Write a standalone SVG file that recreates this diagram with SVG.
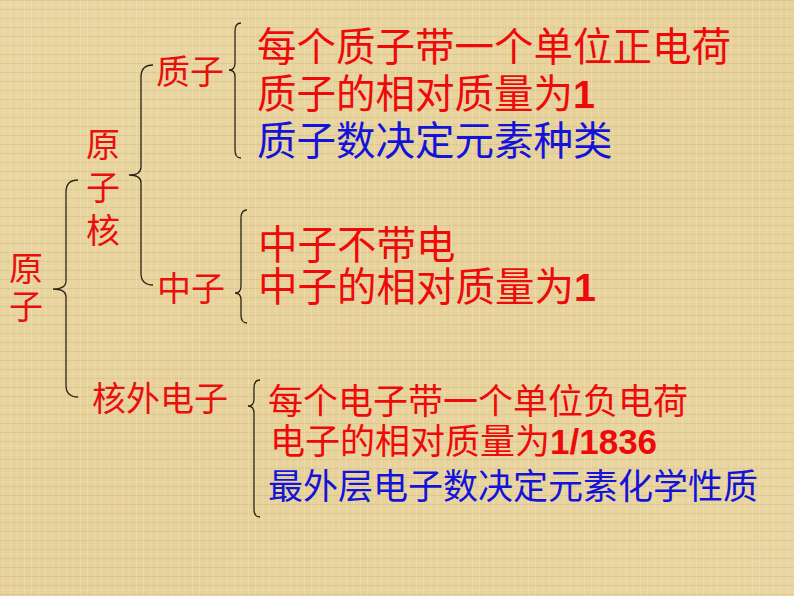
<svg xmlns="http://www.w3.org/2000/svg" width="794" height="596" viewBox="0 0 794 596">
<defs>
<style>
.cjk{font-family:"Noto Sans CJK SC","Noto Sans CJK TC",sans-serif;}
.lbl{font-size:34px;fill:#E8100E;}
.big{font-size:39.5px;}
.mid{font-size:35px;}
.red{fill:#EE0A0A;}
.blue{fill:#1414D8;}
.num{font-family:"Liberation Sans",Arial,sans-serif;font-weight:bold;}
.brace{fill:none;stroke:#2a2418;stroke-width:1.3;}
</style>
<pattern id="tex" width="7" height="9" patternUnits="userSpaceOnUse">
<rect width="7" height="9" fill="none"/>
<line x1="0" y1="0.5" x2="7" y2="0.5" stroke="#c9b27a" stroke-opacity="0.35" stroke-width="1"/>
<line x1="3.5" y1="0" x2="3.5" y2="9" stroke="#f5e8c0" stroke-opacity="0.35" stroke-width="1"/>
<line x1="0" y1="5" x2="7" y2="5" stroke="#f3e4b8" stroke-opacity="0.3" stroke-width="1"/>
</pattern>
<linearGradient id="bg" x1="0" y1="0" x2="1" y2="1">
<stop offset="0" stop-color="#E9D6A2"/>
<stop offset="0.5" stop-color="#E6D19A"/>
<stop offset="1" stop-color="#E9D5A1"/>
</linearGradient>
</defs>
<rect width="794" height="596" fill="url(#bg)"/>
<rect width="794" height="596" fill="url(#tex)"/>

<g id="connectors">
<path class="brace" d="M78,180 Q66,180 66,192 L66,281 Q66,289 53,289 Q66,289 66,297 L66,385 Q66,397 78,397"/>
<path class="brace" d="M153,65 Q141,65 141,77 L141,167 Q141,175 129,175 Q141,175 141,183 L141,273 Q141,285 153,285"/>
<path class="brace" d="M241,23 Q235,23 235,31 L235,63 Q235,70 229,70 Q235,70 235,77 L235,150 Q235,158 241,158"/>
<path class="brace" d="M247,210 Q241,210 241,218 L241,286 Q241,293 235,293 Q241,293 241,300 L241,315 Q241,323 247,323"/>
<path class="brace" d="M260,380 Q254,380 254,388 L254,399 Q254,406 248,406 Q254,406 254,413 L254,509 Q254,517 260,517"/>
</g>

<g id="atom">
<text class="cjk lbl" x="9" y="281">原</text>
<text class="cjk lbl" x="9" y="319">子</text>
</g>
<g id="nucleus">
<text class="cjk lbl" x="86" y="157">原</text>
<text class="cjk lbl" x="86" y="200">子</text>
<text class="cjk lbl" x="86" y="243">核</text>
</g>
<g id="proton">
<text class="cjk lbl" x="156" y="84">质子</text>
</g>
<g id="neutron">
<text class="cjk lbl" x="157" y="301">中子</text>
</g>
<g id="electron">
<text class="cjk lbl" x="92" y="411">核外电子</text>
</g>

<g id="proton-facts">
<text class="cjk big red" x="257" y="61">每个质子带一个单位正电荷</text>
<text class="cjk big red" x="257" y="108">质子的相对质量为<tspan class="num">1</tspan></text>
<text class="cjk big blue" x="257" y="155">质子数决定元素种类</text>
</g>
<g id="neutron-facts">
<text class="cjk big red" x="258" y="259">中子不带电</text>
<text class="cjk big red" x="258" y="301">中子的相对质量为<tspan class="num">1</tspan></text>
</g>
<g id="electron-facts">
<text class="cjk mid red" x="268" y="414">每个电子带一个单位负电荷</text>
<text class="cjk mid red" x="270" y="454">电子的相对质量为<tspan class="num">1/1836</tspan></text>
<text class="cjk mid blue" x="268" y="499">最外层电子数决定元素化学性质</text>
</g>
</svg>
